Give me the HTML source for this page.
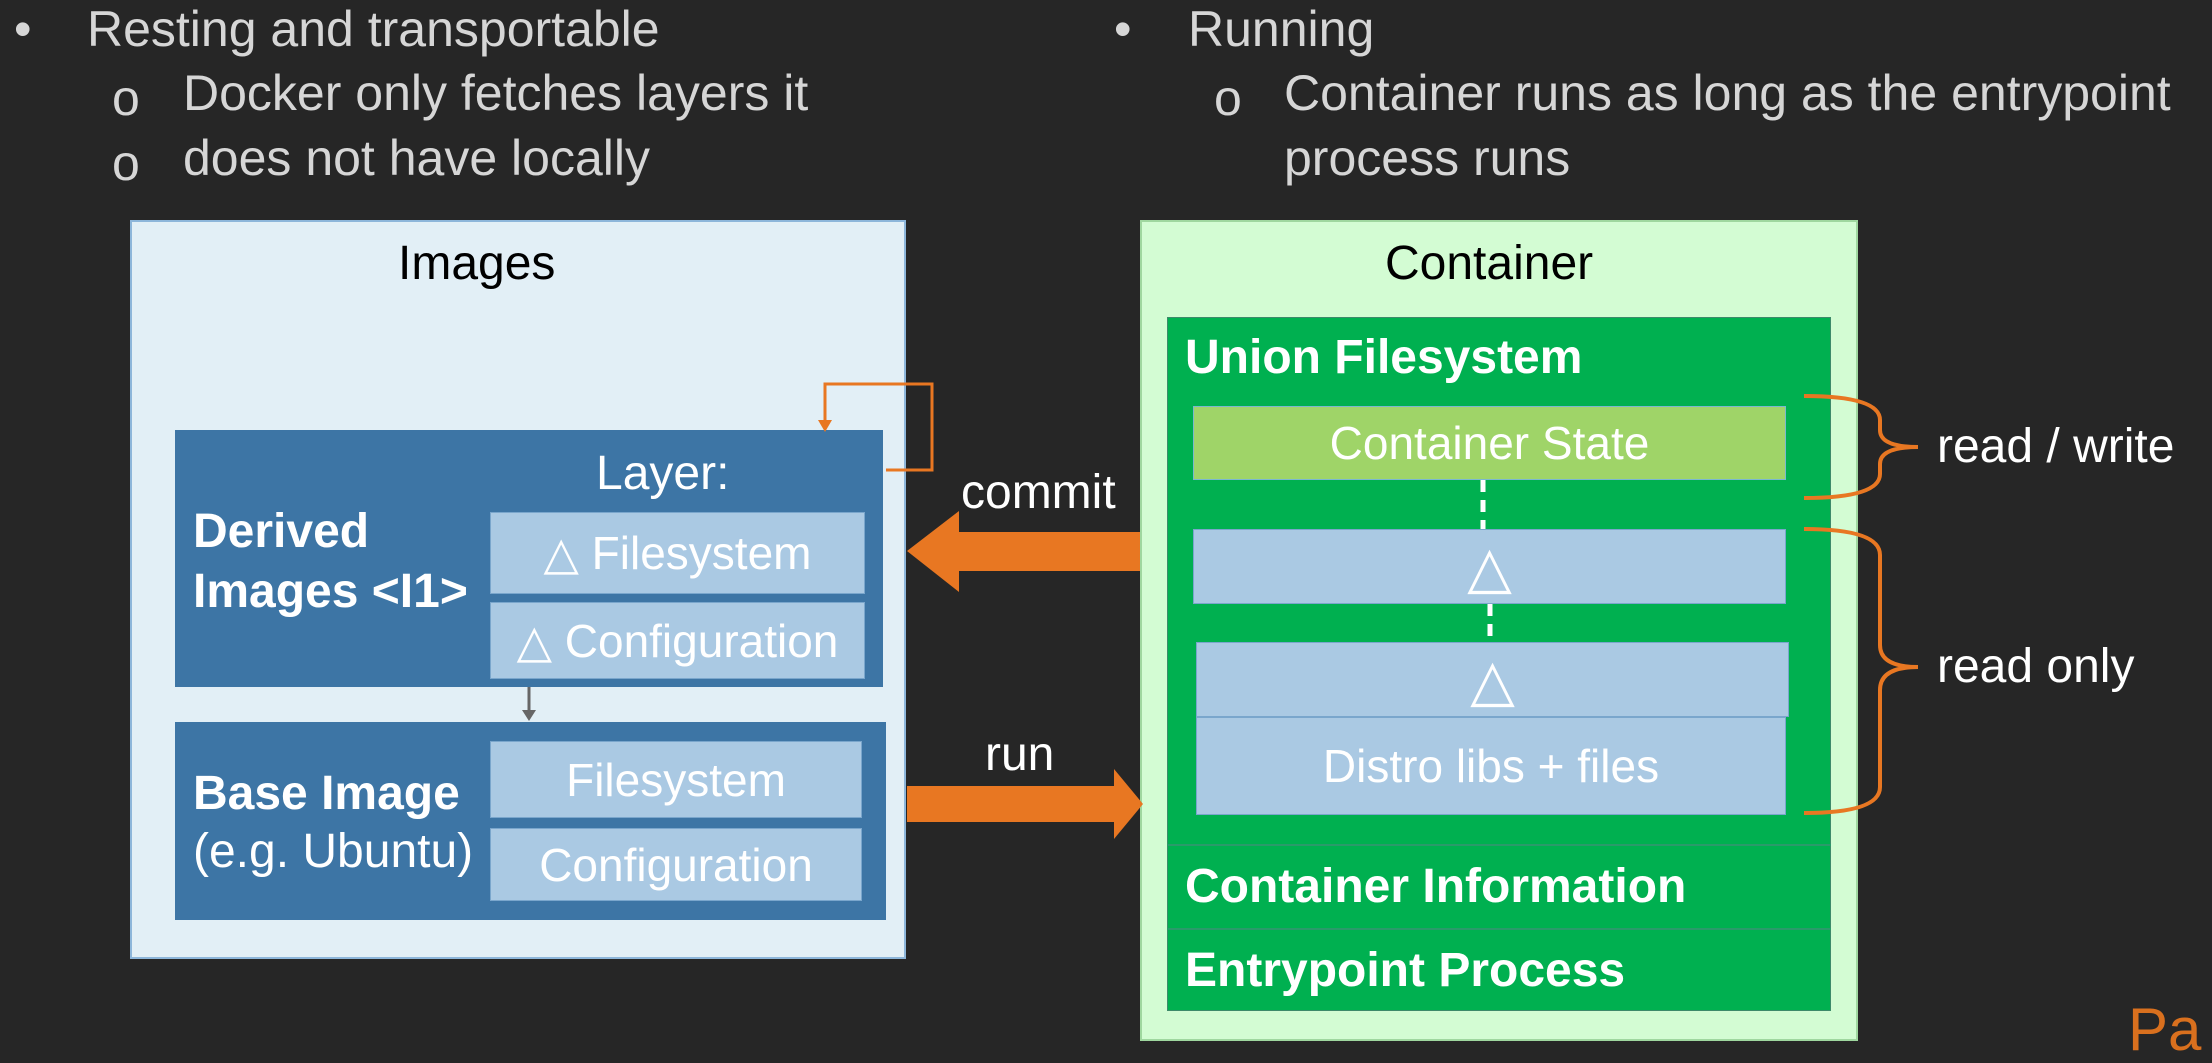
<!DOCTYPE html>
<html><head><meta charset="utf-8"><style>
body{margin:0;width:2212px;height:1050px;background:#262626;position:relative;overflow:hidden;font-family:"Liberation Sans",sans-serif}
.a{position:absolute;box-sizing:border-box}
.t{position:absolute;white-space:nowrap;color:#dcdcdc;font-size:48px;line-height:1}
.b{position:absolute;white-space:nowrap;color:#d6d6d6;font-size:50px;line-height:1}
.sub{position:absolute;background:#aac9e3;color:#fff;font-size:46px;display:flex;align-items:center;justify-content:center;box-sizing:border-box;border:1px solid #7aa6cc}
.w{color:#fff;font-weight:bold;font-size:48px;position:absolute;white-space:nowrap}
</style></head><body>
<div class="b" style="left:14px;top:4px">•</div>
<div class="b" style="left:87px;top:4px">Resting and transportable</div>
<div class="b" style="left:112px;top:73px">o</div>
<div class="b" style="left:183px;top:68px">Docker only fetches layers it</div>
<div class="b" style="left:112px;top:138px">o</div>
<div class="b" style="left:183px;top:133px">does not have locally</div>
<div class="b" style="left:1114px;top:4px">•</div>
<div class="b" style="left:1188px;top:4px">Running</div>
<div class="b" style="left:1214px;top:73px">o</div>
<div class="b" style="left:1284px;top:68px">Container runs as long as the entrypoint</div>
<div class="b" style="left:1284px;top:133px">process runs</div>

<div class="a" style="left:130px;top:220px;width:776px;height:739px;background:#e2eff6;border:2px solid #8db6da"></div>
<div class="t" style="left:398px;top:240px;color:#000">Images</div>
<div class="a" style="left:175px;top:430px;width:708px;height:257px;background:#3d75a5"></div>
<div class="t" style="left:596px;top:450px;color:#fff">Layer:</div>
<div class="w" style="left:193px;top:502px;line-height:60px">Derived<br>Images &lt;I1&gt;</div>
<div class="sub" style="left:490px;top:512px;width:375px;height:82px">△ Filesystem</div>
<div class="sub" style="left:490px;top:602px;width:375px;height:77px">△ Configuration</div>
<div class="a" style="left:175px;top:722px;width:711px;height:198px;background:#3d75a5"></div>
<div class="w" style="left:193px;top:766px">Base Image</div>
<div class="t" style="left:193px;top:828px;color:#fff">(e.g. Ubuntu)</div>
<div class="sub" style="left:490px;top:741px;width:372px;height:77px">Filesystem</div>
<div class="sub" style="left:490px;top:828px;width:372px;height:73px">Configuration</div>

<div class="a" style="left:1140px;top:220px;width:718px;height:821px;background:#d3fcd3;border:2px solid #9fd79f"></div>
<div class="t" style="left:1385px;top:240px;color:#000">Container</div>
<div class="a" style="left:1167px;top:317px;width:664px;height:694px;background:#00b050;border:1px solid #3d8a6a"></div>
<div class="a" style="left:1167px;top:844px;width:664px;height:2px;background:#2a9a6a"></div>
<div class="a" style="left:1167px;top:928px;width:664px;height:2px;background:#2a9a6a"></div>
<div class="w" style="left:1185px;top:330px">Union Filesystem</div>
<div class="sub" style="left:1193px;top:406px;width:593px;height:74px;background:#9fd468;border-color:#7bb8d0">Container State</div>
<div class="sub" style="left:1193px;top:529px;width:593px;height:75px;font-size:58px">△</div>
<div class="sub" style="left:1196px;top:642px;width:593px;height:75px;font-size:58px">△</div>
<div class="sub" style="left:1196px;top:717px;width:590px;height:98px">Distro libs + files</div>
<div class="w" style="left:1185px;top:859px">Container Information</div>
<div class="w" style="left:1185px;top:943px">Entrypoint Process</div>
<div class="t" style="left:1937px;top:423px;color:#fff">read / write</div>
<div class="t" style="left:1937px;top:643px;color:#fff">read only</div>
<div class="t" style="left:961px;top:469px;color:#fff">commit</div>
<div class="t" style="left:985px;top:731px;color:#fff">run</div>
<div class="t" style="left:2128px;top:1000px;color:#d9701e;font-size:60px">Pa</div>

<svg class="a" style="left:0;top:0" width="2212" height="1050">
<g fill="#e87722">
<polygon points="1140,532 959,532 959,511 907,551 959,592 959,571 1140,571"/>
<polygon points="907,786 1114,786 1114,769 1143,804 1114,839 1114,822 907,822"/>
</g>
<polyline points="886,470 932,470 932,384 825,384 825,425" fill="none" stroke="#e87722" stroke-width="3"/>
<polygon points="818,420 832,420 825,432" fill="#e87722"/>
<line x1="529" y1="687" x2="529" y2="712" stroke="#666" stroke-width="3"/>
<polygon points="522,710 536,710 529,721" fill="#666"/>
<line x1="1483" y1="480" x2="1483" y2="529" stroke="#fff" stroke-width="5" stroke-dasharray="12,8"/>
<line x1="1490" y1="604" x2="1490" y2="642" stroke="#fff" stroke-width="5" stroke-dasharray="12,8"/>
<g fill="none" stroke="#e87722" stroke-width="4">
<path d="M1804,396 Q1880,396 1880,420 L1880,430 Q1880,447 1918,447 Q1880,447 1880,464 L1880,474 Q1880,498 1804,498"/>
<path d="M1804,529 Q1880,529 1880,555 L1880,645 Q1880,667 1918,667 Q1880,667 1880,690 L1880,787 Q1880,813 1804,813"/>
</g>
</svg>
</body></html>
